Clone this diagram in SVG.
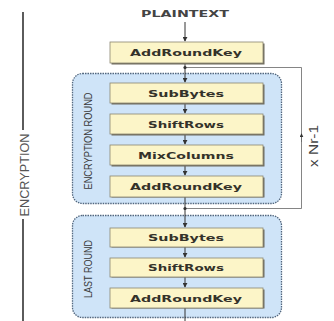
<svg xmlns="http://www.w3.org/2000/svg" width="334" height="321" viewBox="0 0 334 321">
<defs>
<marker id="ah" viewBox="0 0 6 6" refX="5" refY="3" markerWidth="5" markerHeight="5" orient="auto">
<path d="M0,0 L6,3 L0,6 z" fill="#333"/>
</marker>
<style>
.round{fill:#cfe4f8;stroke:#52677f;stroke-width:1.3;stroke-dasharray:1.5 1}
.shadow{fill:#6f6b5c}
.box{fill:#fcf5c8;stroke:#8b8670;stroke-width:0.8}
.bt{font-family:"DejaVu Sans",sans-serif;font-weight:bold;font-size:9px;fill:#34322a;text-anchor:middle}
.vt{font-family:"Liberation Sans",sans-serif;font-size:10px;fill:#3a3a3a;text-anchor:middle}
.ln{stroke:#333;stroke-width:1;fill:none}
.fb{stroke:#666;stroke-width:0.8;fill:none}
</style>
</defs>
<rect width="334" height="321" fill="#fff"/>

<g id="encryption-label">
<line x1="23" y1="12" x2="23" y2="130" stroke="#333" stroke-width="1.6"/>
<line x1="23" y1="219" x2="23" y2="321" stroke="#333" stroke-width="1.6"/>
<text transform="translate(29,175) rotate(-90)" font-family="Liberation Sans,sans-serif" font-size="13" fill="#555" text-anchor="middle" textLength="83" lengthAdjust="spacingAndGlyphs">ENCRYPTION</text>
</g>

<g id="plaintext">
<text x="185" y="17" font-family="DejaVu Sans,sans-serif" font-weight="bold" font-size="9" fill="#444" text-anchor="middle" textLength="88" lengthAdjust="spacingAndGlyphs">PLAINTEXT</text>
</g>

<g id="round1">
<rect class="round" x="72.5" y="73.5" width="209" height="130" rx="10"/>
<text class="vt" transform="translate(92,141) rotate(-90)" textLength="97" lengthAdjust="spacingAndGlyphs">ENCRYPTION ROUND</text>
</g>
<g id="round2">
<rect class="round" x="72.5" y="215.5" width="209" height="102" rx="10"/>
<text class="vt" transform="translate(92,269) rotate(-90)" textLength="58" lengthAdjust="spacingAndGlyphs">LAST ROUND</text>
</g>

<g id="connectors">
<line class="ln" x1="185" y1="22" x2="185" y2="41" marker-end="url(#ah)"/>
<line class="ln" x1="185" y1="63" x2="185" y2="82" marker-end="url(#ah)"/>
<line class="ln" x1="185" y1="103" x2="185" y2="113" marker-end="url(#ah)"/>
<line class="ln" x1="185" y1="134" x2="185" y2="144" marker-end="url(#ah)"/>
<line class="ln" x1="185" y1="165" x2="185" y2="175" marker-end="url(#ah)"/>
<line class="ln" x1="185" y1="197" x2="185" y2="227" marker-end="url(#ah)"/>
<line class="ln" x1="185" y1="247" x2="185" y2="257" marker-end="url(#ah)"/>
<line class="ln" x1="185" y1="277" x2="185" y2="287" marker-end="url(#ah)"/>
<line class="ln" x1="185" y1="308" x2="185" y2="321"/>
<path class="fb" d="M185,208.5 H301.5 V67.5 H185"/>
<line class="fb" x1="301.5" y1="142" x2="301.5" y2="134" marker-end="url(#ah)"/>
<circle cx="185" cy="208.5" r="1.6" fill="#333"/>
<circle cx="185" cy="67.5" r="1.6" fill="#333"/>
<text transform="translate(318,146) rotate(-90)" font-family="Liberation Sans,sans-serif" font-size="12" fill="#444" text-anchor="middle" textLength="42" lengthAdjust="spacingAndGlyphs">x Nr-1</text>
</g>

<g id="addroundkey0">
<rect class="shadow" x="111.5" y="43.5" width="153" height="21"/>
<rect class="box" x="110" y="42" width="153" height="21"/>
<text class="bt" x="186" y="56" textLength="112" lengthAdjust="spacingAndGlyphs">AddRoundKey</text>
</g>
<g id="subbytes1">
<rect class="shadow" x="111.5" y="84.5" width="153" height="20"/>
<rect class="box" x="110" y="83" width="153" height="20"/>
<text class="bt" x="186" y="96.5" textLength="76" lengthAdjust="spacingAndGlyphs">SubBytes</text>
</g>
<g id="shiftrows1">
<rect class="shadow" x="111.5" y="115.5" width="153" height="20"/>
<rect class="box" x="110" y="114" width="153" height="20"/>
<text class="bt" x="186" y="127.5" textLength="76" lengthAdjust="spacingAndGlyphs">ShiftRows</text>
</g>
<g id="mixcolumns1">
<rect class="shadow" x="111.5" y="146.5" width="153" height="20"/>
<rect class="box" x="110" y="145" width="153" height="20"/>
<text class="bt" x="186" y="158.5" textLength="96" lengthAdjust="spacingAndGlyphs">MixColumns</text>
</g>
<g id="addroundkey1">
<rect class="shadow" x="111.5" y="177.5" width="153" height="20"/>
<rect class="box" x="110" y="176" width="153" height="21"/>
<text class="bt" x="186" y="190" textLength="112" lengthAdjust="spacingAndGlyphs">AddRoundKey</text>
</g>
<g id="subbytes2">
<rect class="shadow" x="111.5" y="229.5" width="153" height="18"/>
<rect class="box" x="110" y="228" width="153" height="19"/>
<text class="bt" x="186" y="241" textLength="76" lengthAdjust="spacingAndGlyphs">SubBytes</text>
</g>
<g id="shiftrows2">
<rect class="shadow" x="111.5" y="259.5" width="153" height="18"/>
<rect class="box" x="110" y="258" width="153" height="19"/>
<text class="bt" x="186" y="271" textLength="76" lengthAdjust="spacingAndGlyphs">ShiftRows</text>
</g>
<g id="addroundkey2">
<rect class="shadow" x="111.5" y="289.5" width="153" height="19"/>
<rect class="box" x="110" y="288" width="153" height="20"/>
<text class="bt" x="186" y="301.5" textLength="112" lengthAdjust="spacingAndGlyphs">AddRoundKey</text>
</g>
</svg>
